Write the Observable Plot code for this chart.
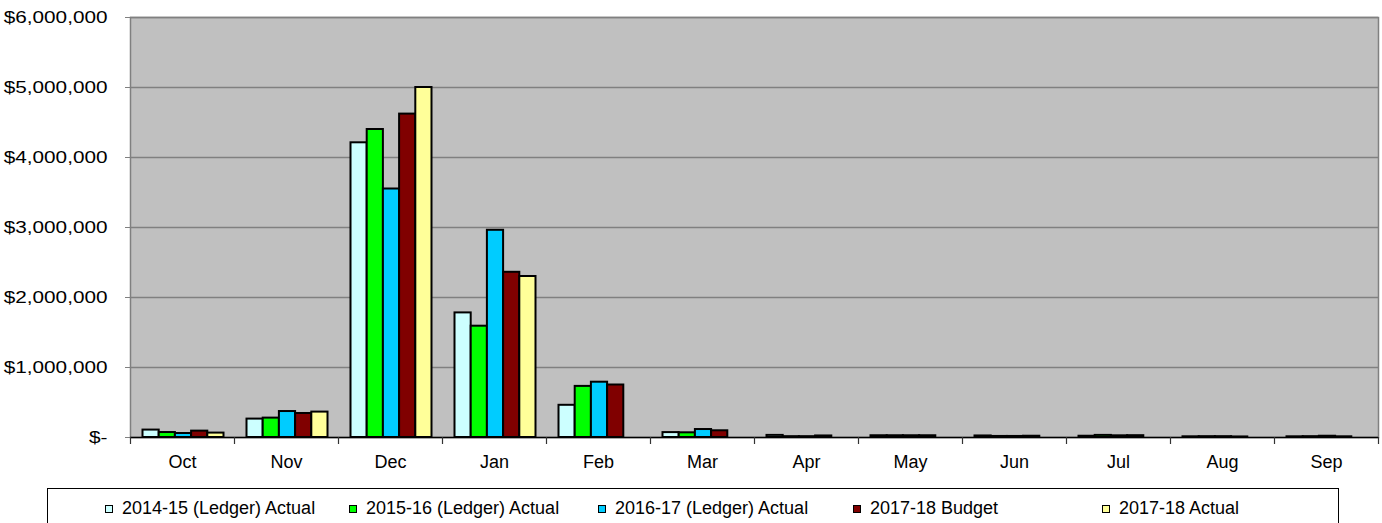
<!DOCTYPE html>
<html>
<head>
<meta charset="utf-8">
<script src="https://cdn.jsdelivr.net/npm/d3@7"></script>
<script src="https://cdn.jsdelivr.net/npm/@observablehq/plot@0.6"></script>
<style>
  html, body { margin: 0; padding: 0; background: #ffffff; }
  body { width: 1382px; height: 523px; position: relative; overflow: hidden; font-family: "Liberation Sans", Arial, sans-serif; }
  #chart { position: absolute; left: 0; top: 0; }
  #legend { position: absolute; left: 47px; top: 488px; width: 1292px; height: 40px; border: 1px solid #000; box-sizing: border-box; background: #fff; }
  .item { position: absolute; top: 9px; display: flex; align-items: center; font-size: 18px; color: #000; white-space: nowrap; }
  .swatch { width: 6px; height: 6px; border: 1.5px solid #000; box-sizing: content-box; margin-right: 9px; }
</style>
</head>
<body>
<div id="chart"></div>
<div id="legend"></div>
<script>
// ---- data ----
const months = ["Oct", "Nov", "Dec", "Jan", "Feb", "Mar", "Apr", "May", "Jun", "Jul", "Aug", "Sep"];
const seriesNames = ["2014-15 (Ledger) Actual", "2015-16 (Ledger) Actual", "2016-17 (Ledger) Actual", "2017-18 Budget", "2017-18 Actual"];
const actual1415 = [106000, 263000, 4210000, 1780000, 460000, 70000, 30000, 25000, 22000, 18000, 10000, 10000];
const actual1516 = [71000, 277000, 4400000, 1590000, 730000, 67000, 12000, 25000, 15000, 30000, 12000, 12000];
const actual1617 = [57000, 371000, 3550000, 2960000, 790000, 114000, 12000, 25000, 15000, 24000, 12000, 18000];
const budget1718 = [91000, 343000, 4620000, 2360000, 750000, 96000, 22000, 25000, 18000, 26000, 8000, 10000];
const actual1718 = [63000, 363000, 5000000, 2300000, null, null, null, null, null, null, null, null];
const yTicks = [0, 1000000, 2000000, 3000000, 4000000, 5000000, 6000000];

// ---- styles ----
const palette = ["#CCFFFF", "#00FF00", "#00CCFF", "#800000", "#FFFF99"];
const allSeries = [actual1415, actual1516, actual1617, budget1718, actual1718];

const W = 1382, H = 478;
const mL = 130, mR = 4, mT = 17, mB = 41;
const band = (W - mL - mR) / months.length;
const groupStart = 12.5;
const barW = 16.2;

const barMarks = allSeries.map((vals, i) => {
  const rows = months.map((m, j) => ({month: m, value: vals[j], series: seriesNames[i]})).filter(d => d.value != null);
  return Plot.barY(rows, {
    x: "month",
    y: "value",
    fill: palette[i],
    stroke: "#000",
    strokeWidth: 2,
    insetLeft: groupStart + i * barW,
    insetRight: band - groupStart - (i + 1) * barW
  });
});

const fmt = d3.format(",");
const chart = Plot.plot({
  width: W,
  height: H,
  marginLeft: mL,
  marginRight: mR,
  marginTop: mT,
  marginBottom: mB,
  style: {fontFamily: "'Liberation Sans', Arial, sans-serif", fontSize: "17px", color: "#000", background: "transparent", overflow: "visible"},
  x: {type: "band", domain: months, padding: 0, label: null},
  y: {domain: [0, 6000000], label: null},
  marks: [
    Plot.frame({fill: "#C0C0C0", stroke: "#808080", strokeWidth: 1.5}),
    Plot.gridY(yTicks.slice(1), {stroke: "#808080", strokeOpacity: 1, strokeWidth: 1.5}),
    Plot.axisY(yTicks, {tickSize: 5, tickPadding: 18, stroke: "#808080", strokeOpacity: 1, fontSize: 17, tickFormat: d => d === 0 ? "$-" : "$" + fmt(d), label: null, ariaLabel: "y-axis"}),
    ...barMarks,
    Plot.ruleY([0], {stroke: "#000", strokeWidth: 1.5}),
    Plot.axisX(months, {tickSize: 7, text: null, dx: -band / 2, stroke: "#333", strokeWidth: 1.2}),
    Plot.axisX([months[months.length - 1]], {tickSize: 7, text: null, dx: band / 2, stroke: "#333", strokeWidth: 1.2}),
    Plot.axisX(months, {tickSize: 0, tickPadding: 18, fontSize: 18, label: null})
  ]
});
document.getElementById("chart").appendChild(chart);

// widen the y tick labels horizontally (the reference glyphs are wider than tall)
d3.select(chart).selectAll("g[aria-label='y-axis tick label'] text").each(function () {
  const len = this.getComputedTextLength();
  this.setAttribute("textLength", (len * 1.22).toFixed(1));
  this.setAttribute("lengthAdjust", "spacingAndGlyphs");
});

// ---- legend ----
const legend = document.getElementById("legend");
const itemLeft = [57, 301, 550, 805, 1054];
seriesNames.forEach((name, i) => {
  const it = document.createElement("div");
  it.className = "item";
  it.style.left = itemLeft[i] + "px";
  const sw = document.createElement("span");
  sw.className = "swatch";
  sw.style.background = palette[i];
  const tx = document.createElement("span");
  tx.textContent = name;
  it.appendChild(sw);
  it.appendChild(tx);
  legend.appendChild(it);
});
</script>
</body>
</html>
